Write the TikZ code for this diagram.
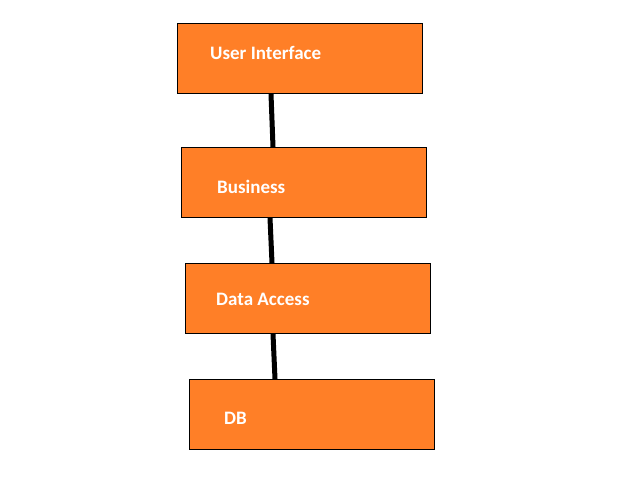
\documentclass[tikz,border=0pt]{standalone}
\usepackage{fontspec}
\setmainfont{Carlito}
\definecolor{boxorange}{RGB}{255,127,39}
\begin{document}
\begin{tikzpicture}[x=1pt,y=-1pt,
  layerbox/.style={draw=black, line width=1pt, fill=boxorange, minimum width=245pt, minimum height=70pt, inner sep=0pt, anchor=north west},
  layertext/.style={text=white, font=\bfseries\fontsize{19}{22}\selectfont, anchor=west, inner sep=0pt},
  link/.style={line width=5pt, black}]
\useasboundingbox[fill=white] (0,0) rectangle (620,476);
\node[layerbox] (ui) at (177,23) {};
\node[layerbox] (bus) at (181,147) {};
\node[layerbox] (da) at (185,263) {};
\node[layerbox] (db) at (189,379) {};
\node[layertext] (uit) at (210,53) {User Interface};
\node[layertext] (bust) at (217,187) {Business};
\node[layertext] (dat) at (216,299) {Data Access};
\node[layertext] (dbt) at (224,418) {DB};
\draw[link] ([xshift=94pt]ui.south west) -- ([xshift=92pt]bus.north west);
\draw[link] ([xshift=89pt]bus.south west) -- ([xshift=87pt]da.north west);
\draw[link] ([xshift=88pt]da.south west) -- ([xshift=86pt]db.north west);
\end{tikzpicture}
\end{document}
